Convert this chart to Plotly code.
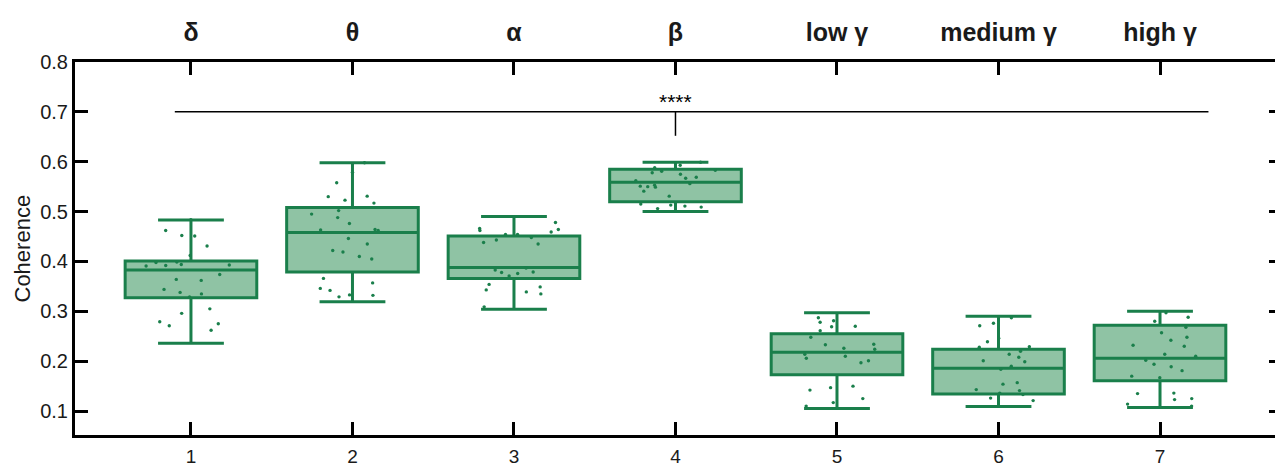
import plotly.graph_objects as go

# ---- data ----
positions = [1, 2, 3, 4, 5, 6, 7]
band_labels = ["δ", "θ", "α", "β", "low γ", "medium γ", "high γ"]
tick_labels = ["1", "2", "3", "4", "5", "6", "7"]
y_ticks = [0.1, 0.2, 0.3, 0.4, 0.5, 0.6, 0.7, 0.8]
y_tick_labels = ["0.1", "0.2", "0.3", "0.4", "0.5", "0.6", "0.7", "0.8"]

upper_whisker = [0.483, 0.598, 0.490, 0.599, 0.297, 0.290, 0.300]
q3_vals = [0.401, 0.508, 0.451, 0.585, 0.255, 0.224, 0.272]
median_vals = [0.383, 0.458, 0.388, 0.559, 0.218, 0.186, 0.206]
q1_vals = [0.327, 0.379, 0.366, 0.520, 0.173, 0.134, 0.161]
lower_whisker = [0.236, 0.319, 0.304, 0.500, 0.105, 0.109, 0.107]

pts_delta = [0.484, 0.462, 0.451, 0.452, 0.431, 0.412, 0.398, 0.392, 0.391, 0.394,
             0.393, 0.399, 0.364, 0.362, 0.374, 0.344, 0.338, 0.335, 0.329, 0.296,
             0.279, 0.275, 0.271, 0.262, 0.305]
pts_theta = [0.598, 0.579, 0.558, 0.530, 0.531, 0.523, 0.517, 0.502, 0.495, 0.488,
             0.476, 0.464, 0.463, 0.462, 0.446, 0.435, 0.422, 0.419, 0.410, 0.405,
             0.366, 0.357, 0.346, 0.342, 0.333, 0.332, 0.329]
pts_alpha = [0.478, 0.466, 0.464, 0.462, 0.459, 0.454, 0.454, 0.448, 0.443, 0.438,
             0.435, 0.387, 0.383, 0.379, 0.378, 0.376, 0.371, 0.354, 0.349, 0.343,
             0.339, 0.335, 0.309]
pts_beta = [0.599, 0.593, 0.588, 0.583, 0.581, 0.578, 0.575, 0.569, 0.567, 0.562,
            0.556, 0.553, 0.551, 0.550, 0.549, 0.541, 0.531, 0.515, 0.513, 0.511,
            0.509, 0.506]
pts_low_gamma = [0.287, 0.281, 0.278, 0.270, 0.269, 0.261, 0.248, 0.234, 0.233, 0.226,
                 0.224, 0.214, 0.210, 0.206, 0.201, 0.197, 0.150, 0.147, 0.142, 0.125,
                 0.117, 0.110]
pts_med_gamma = [0.287, 0.276, 0.271, 0.246, 0.239, 0.229, 0.228, 0.220, 0.214, 0.208,
                 0.201, 0.199, 0.190, 0.184, 0.157, 0.154, 0.143, 0.141, 0.136, 0.133,
                 0.126, 0.121]
pts_high_gamma = [0.297, 0.288, 0.280, 0.268, 0.257, 0.248, 0.242, 0.232, 0.230, 0.214,
                  0.210, 0.202, 0.194, 0.189, 0.181, 0.170, 0.167, 0.136, 0.135, 0.125,
                  0.123, 0.114, 0.110]
all_points = [pts_delta, pts_theta, pts_alpha, pts_beta,
              pts_low_gamma, pts_med_gamma, pts_high_gamma]

sig_from = 0.9
sig_to = 7.3
sig_level = 0.7
sig_drop_to = 0.652
sig_at = 4
sig_text = "****"

# ---- styles ----
LINE = "#1a7f4b"
FILL = "#8fc3a4"
FONT = "Liberation Sans, Arial, sans-serif"
TXT = "#1a1a1a"

fig = go.Figure()

fig.add_trace(go.Box(
    x=positions, q1=q1_vals, median=median_vals, q3=q3_vals,
    lowerfence=lower_whisker, upperfence=upper_whisker,
    width=0.815, whiskerwidth=0.5,
    line=dict(color=LINE, width=3), fillcolor=FILL,
    boxpoints=False, showlegend=False, hoverinfo="skip",
))

px, py = [], []
for pos, vals in zip(positions, all_points):
    px += [pos] * len(vals)
    py += vals
fig.add_trace(go.Box(
    x=px, y=py, width=0.815, boxpoints="all", jitter=0.7, pointpos=0,
    fillcolor="rgba(0,0,0,0)", line=dict(color="rgba(0,0,0,0)", width=0),
    marker=dict(color=LINE, size=3.4), showlegend=False, hoverinfo="skip",
))

# significance bar
fig.add_trace(go.Scatter(x=[sig_from, sig_to], y=[sig_level, sig_level], mode="lines",
                         line=dict(color="black", width=1.5), showlegend=False, hoverinfo="skip"))
fig.add_trace(go.Scatter(x=[sig_at, sig_at], y=[sig_level, sig_drop_to], mode="lines",
                         line=dict(color="black", width=1.5), showlegend=False, hoverinfo="skip"))
fig.add_annotation(x=sig_at, y=sig_level, text=sig_text, showarrow=False, yanchor="bottom",
                   yshift=-3, font=dict(family=FONT, size=21, color="black"))

# dummy trace so overlay axes are drawn
fig.add_trace(go.Scatter(x=[None], y=[None], xaxis="x2", yaxis="y2", showlegend=False))

xr = [0.282, 7.712]
yr = [0.052, 0.8]

axis_common = dict(showgrid=False, zeroline=False, linecolor="black", linewidth=3,
                   ticks="inside", tickwidth=3, tickcolor="black", automargin=False)

fig.update_layout(
    width=1275, height=466,
    margin=dict(l=75, r=0, t=62, b=31, autoexpand=False),
    paper_bgcolor="white", plot_bgcolor="white",
    font=dict(family=FONT, color=TXT),
    boxmode="overlay",
    xaxis=dict(range=xr, tickvals=positions, ticktext=tick_labels, showline=True,
               ticklen=13, tickfont=dict(size=19, family=FONT, color=TXT),
               ticklabelstandoff=2, **axis_common),
    xaxis2=dict(range=xr, overlaying="x", side="top", tickvals=positions, ticktext=band_labels,
                showline=True, ticklen=13,
                tickfont=dict(size=25, family=FONT, color=TXT, weight="bold"),
                ticklabelstandoff=8, **axis_common),
    yaxis=dict(range=yr, tickvals=y_ticks, ticktext=y_tick_labels, showline=True,
               ticklen=13, tickfont=dict(size=20, family=FONT, color=TXT),
               ticklabelstandoff=0, **axis_common),
    yaxis2=dict(range=yr, overlaying="y", side="right", tickvals=y_ticks,
                showline=False, showticklabels=False, ticklen=6, **axis_common),
)

fig.add_annotation(x=0, y=0.5, xref="paper", yref="paper", text="Coherence",
                   textangle=-90, showarrow=False, xanchor="center", xshift=-53,
                   font=dict(family=FONT, size=22, color=TXT))

fig.write_html(
    "out.html",
    config={"displayModeBar": False},
    post_script="document.body.style.margin='0';document.body.style.overflow='hidden';",
)
